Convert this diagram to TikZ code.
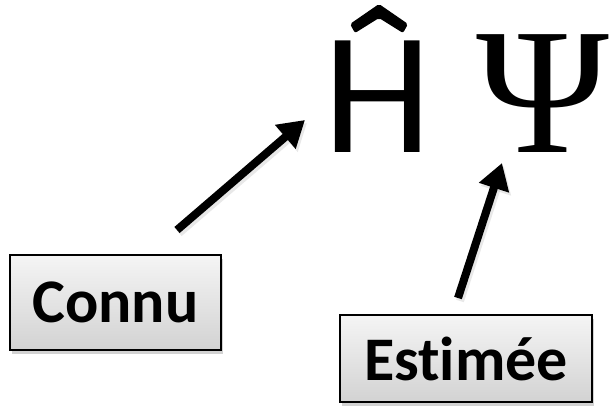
\documentclass[tikz,border=0pt]{standalone}
\usepackage{fontspec}
\setmainfont{Carlito}[Ligatures={NoCommon}]
\newfontfamily\psifont{Liberation Serif}
\usetikzlibrary{arrows.meta,shadows}
\begin{document}
\begin{tikzpicture}[x=1pt,y=1pt,
  labelbox/.style={draw=black, line width=1.5pt, top color=gray!8, bottom color=gray!35,
    minimum width=#1, inner sep=0pt, font=\fontsize{62}{62}\selectfont\bfseries,
    drop shadow={opacity=0.35, shadow xshift=2pt, shadow yshift=-4pt}},
  bigarrow/.style={line width=8pt, -{Triangle[length=26pt,width=30pt]},
    preaction={draw=gray!45, line width=8pt, opacity=0.4, transform canvas={shift={(2pt,-3pt)}}, -{Triangle[length=26pt,width=30pt]}}},
  bigsym/.style={inner sep=0pt, anchor=base}
]
\useasboundingbox (0,0) rectangle (610,413);
\fill[white] (0,0) rectangle (610,413);
\node[bigsym, font=\fontsize{174}{174}\selectfont] (H) at (378,261) {H};
\fill[rounded corners=2pt] (350,389) -- (379,409) -- (408,389) -- (403,380) -- (379,395) -- (355,380) -- cycle;
\node[bigsym, font=\psifont\fontsize{180}{180}\selectfont] (psi) at (543,261) {Ψ};
\node[labelbox=211pt, minimum height=95pt] (connu) at (115.5,110.5) {Connu};
\node[labelbox=252pt, minimum height=87pt] (est) at (466,54.5) {Estimée};
\coordinate (a1) at (177,183);
\coordinate (t1) at (305,293);
\coordinate (a2) at (458,115);
\coordinate (t2) at (502,250);
\draw[bigarrow] (a1) -- (t1);
\draw[bigarrow] (a2) -- (t2);
\end{tikzpicture}
\end{document}
